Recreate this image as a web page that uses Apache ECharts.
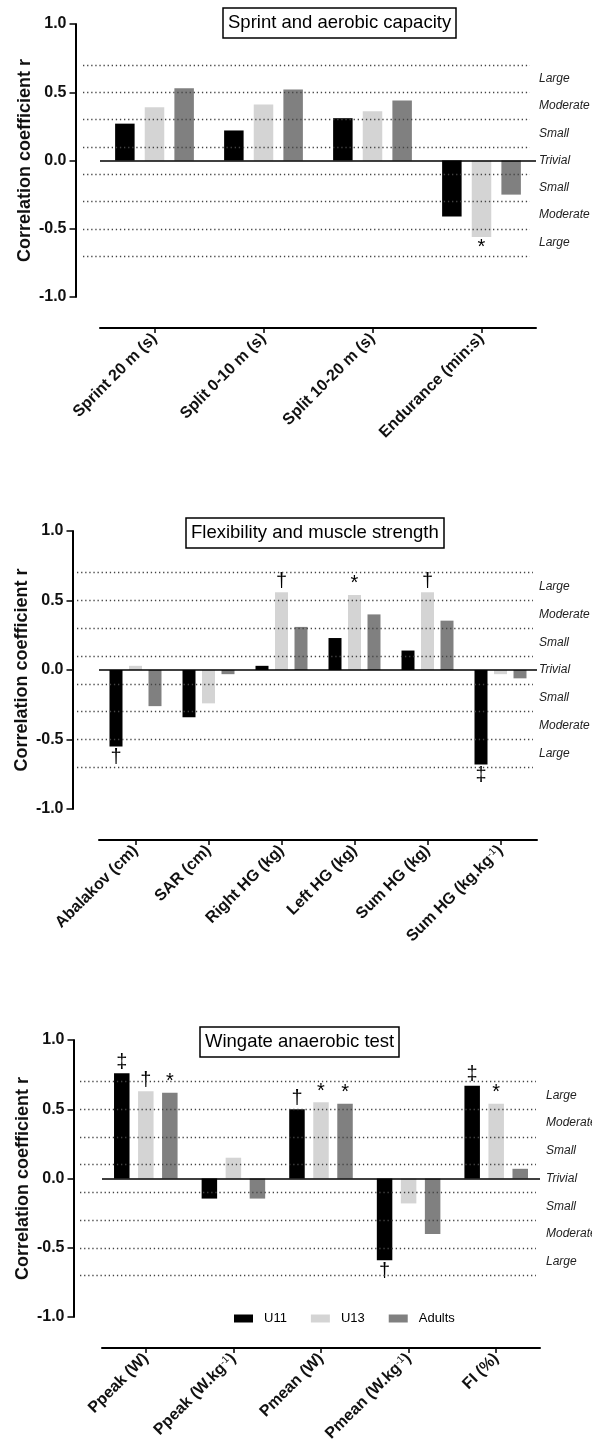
<!DOCTYPE html>
<html><head><meta charset="utf-8">
<script src="https://cdn.jsdelivr.net/npm/echarts@6/dist/echarts.min.js"></script>
<style>html,body{margin:0;padding:0;background:#fff}#c{width:592px;height:1450px}</style>
</head><body><div id="c"></div>
<script>
// ---------- data ----------
const groups = ['U11', 'U13', 'Adults'];
const groupColors = ['#000000', '#d4d4d4', '#808080'];

const sprintCategories = ['Sprint 20 m (s)', 'Split 0-10 m (s)', 'Split 10-20 m (s)', 'Endurance (min:s)'];
const sprintU11 = [0.27, 0.22, 0.31, -0.41];
const sprintU13 = [0.39, 0.41, 0.36, -0.56];
const sprintAdults = [0.53, 0.52, 0.44, -0.25];
const sprintMarksU11 = ['', '', '', ''];
const sprintMarksU13 = ['', '', '', '*'];
const sprintMarksAdults = ['', '', '', ''];

const strengthCategories = ['Abalakov (cm)', 'SAR (cm)', 'Right HG (kg)', 'Left HG (kg)', 'Sum HG (kg)', 'Sum HG (kg.kg⁻¹)'];
const strengthU11 = [-0.55, -0.34, 0.03, 0.23, 0.14, -0.68];
const strengthU13 = [0.03, -0.24, 0.56, 0.54, 0.56, -0.03];
const strengthAdults = [-0.26, -0.03, 0.31, 0.40, 0.355, -0.06];
const strengthMarksU11 = ['†', '', '', '', '', '‡'];
const strengthMarksU13 = ['', '', '†', '*', '†', ''];
const strengthMarksAdults = ['', '', '', '', '', ''];

const wingateCategories = ['Ppeak (W)', 'Ppeak (W.kg⁻¹)', 'Pmean (W)', 'Pmean (W.kg⁻¹)', 'FI (%)'];
const wingateU11 = [0.76, -0.145, 0.50, -0.59, 0.67];
const wingateU13 = [0.63, 0.15, 0.55, -0.18, 0.54];
const wingateAdults = [0.62, -0.145, 0.54, -0.40, 0.07];
const wingateMarksU11 = ['‡', '', '†', '†', '‡'];
const wingateMarksU13 = ['†', '', '*', '', '*'];
const wingateMarksAdults = ['*', '', '*', '', ''];

const thresholdLevels = [0.7, 0.5, 0.3, 0.1, -0.1, -0.3, -0.5, -0.7];
const effectValues = [0.6, 0.4, 0.2, 0, -0.2, -0.4, -0.6];
const effectLabels = ['Large', 'Moderate', 'Small', 'Trivial', 'Small', 'Moderate', 'Large'];
const yAxisTitle = 'Correlation coefficient r';

// ---------- layout ----------
const FONT = '"Liberation Sans", Arial, Helvetica, sans-serif';
const panels = [
  { title: 'Sprint and aerobic capacity', titleLeft: 223, titleTop: 8,
    top: 24, height: 273, axisX: 75.5, dotLeft: 83, right: 530, barLeft: 100, barSpan: 436,
    barW: 19.5, barGap: '52%', effMargin: 9,
    cats: sprintCategories, values: [sprintU11, sprintU13, sprintAdults],
    marks: [sprintMarksU11, sprintMarksU13, sprintMarksAdults] },
  { title: 'Flexibility and muscle strength', titleLeft: 186, titleTop: 518,
    top: 531, height: 278, axisX: 72.5, dotLeft: 77, right: 533, barLeft: 99, barSpan: 438,
    barW: 13, barGap: '50%', effMargin: 6,
    cats: strengthCategories, values: [strengthU11, strengthU13, strengthAdults],
    marks: [strengthMarksU11, strengthMarksU13, strengthMarksAdults] },
  { title: 'Wingate anaerobic test', titleLeft: 200, titleTop: 1027,
    top: 1040, height: 277, axisX: 73.5, dotLeft: 80, right: 536, barLeft: 102, barSpan: 438,
    barW: 15.5, barGap: '55%', effMargin: 10,
    cats: wingateCategories, values: [wingateU11, wingateU13, wingateAdults],
    marks: [wingateMarksU11, wingateMarksU13, wingateMarksAdults] }
];

const grid = [], xAxis = [], yAxis = [], series = [], title = [];

function catFormatter(v) {
  return v.replace('⁻¹', '{sup|-1}');
}
function effFormatter(v) {
  const i = effectValues.findIndex(e => Math.abs(e - v) < 1e-6);
  return i < 0 ? '' : effectLabels[i];
}

panels.forEach((p, k) => {
  title.push({
    text: p.title, left: p.titleLeft, top: p.titleTop,
    padding: [5, 5, 5, 5], borderColor: '#000', borderWidth: 1.5,
    textStyle: { fontFamily: FONT, fontSize: 18.5, fontWeight: 'normal', color: '#000', lineHeight: 20 }
  });
  const gA = grid.length;
  grid.push({ left: p.dotLeft, top: p.top, width: p.right - p.dotLeft, height: p.height,
    containLabel: false, outerBoundsMode: 'none' });
  grid.push({ left: p.barLeft, top: p.top, width: p.barSpan, height: p.height,
    containLabel: false, outerBoundsMode: 'none' });
  const xA = xAxis.length;
  xAxis.push({ type: 'value', gridIndex: gA, min: 0, max: 1, show: false });
  xAxis.push({
    type: 'category', gridIndex: gA + 1, data: p.cats, position: 'bottom', offset: 31,
    axisLine: { show: true, onZero: false, lineStyle: { color: '#000', width: 2 } },
    axisTick: { show: true, alignWithLabel: true, length: 5, lineStyle: { color: '#000', width: 1.5 } },
    splitLine: { show: false },
    axisLabel: {
      rotate: 45, margin: 8, interval: 0, fontFamily: FONT, fontSize: 16, fontWeight: 'bold', color: '#111',
      formatter: catFormatter,
      rich: { sup: { fontFamily: FONT, fontSize: 10, fontWeight: 'normal', color: '#111', verticalAlign: 'top' } }
    }
  });
  const yA = yAxis.length;
  yAxis.push({
    type: 'value', gridIndex: gA, min: -1, max: 1, interval: 0.5, position: 'left',
    offset: p.dotLeft - p.axisX,
    axisLine: { show: true, onZero: false, lineStyle: { color: '#000', width: 2 } },
    axisTick: { show: true, length: 6, lineStyle: { color: '#000', width: 1.5 } },
    splitLine: { show: false },
    axisLabel: { margin: 9, fontFamily: FONT, fontSize: 16, fontWeight: 'bold', color: '#111',
      formatter: v => v.toFixed(1) },
    name: yAxisTitle, nameLocation: 'middle', nameRotate: 90, nameGap: 41, nameMoveOverlap: false,
    nameTextStyle: { fontFamily: FONT, fontSize: 18, fontWeight: 'bold', color: '#111' }
  });
  yAxis.push({
    type: 'value', gridIndex: gA, min: -1, max: 1, interval: 0.2, position: 'right',
    axisLine: { show: false }, axisTick: { show: false }, splitLine: { show: false },
    axisLabel: { margin: p.effMargin, fontFamily: FONT, fontSize: 12, fontStyle: 'italic', color: '#222',
      formatter: effFormatter, showMinLabel: true, showMaxLabel: true }
  });
  yAxis.push({ type: 'value', gridIndex: gA + 1, min: -1, max: 1, show: false });

  series.push({
    type: 'line', xAxisIndex: xA, yAxisIndex: yA, data: [], silent: true, z: 1,
    markLine: {
      silent: true, symbol: 'none', label: { show: false }, animation: false,
      lineStyle: { color: '#444', width: 1.3, type: [1.3, 2.8] },
      data: thresholdLevels.map(v => ({ yAxis: v }))
    }
  });
  groups.forEach((g, i) => {
    const s = {
      type: 'bar', name: g, xAxisIndex: xA + 1, yAxisIndex: yA + 2,
      barWidth: p.barW, barGap: p.barGap, z: 3,
      itemStyle: { color: groupColors[i] },
      label: { fontFamily: FONT, fontSize: 20, color: '#000', distance: 1 },
      data: p.values[i].map((v, j) => {
        const m = p.marks[i][j];
        return m ? { value: v, label: { show: true, position: v >= 0 ? 'top' : 'bottom', formatter: m } } : v;
      })
    };
    if (i === groups.length - 1) {
      s.markLine = {
        silent: true, symbol: 'none', label: { show: false }, animation: false,
        lineStyle: { color: '#000', width: 1.5, type: 'solid' },
        data: [{ yAxis: 0 }]
      };
    }
    series.push(s);
  });
});

const chart = echarts.init(document.getElementById('c'), null, { renderer: 'canvas' });
chart.setOption({
  animation: false,
  backgroundColor: '#fff',
  title,
  legend: {
    data: groups, left: 229, top: 1307, itemWidth: 19, itemHeight: 8, itemGap: 24, icon: 'rect',
    selectedMode: false,
    textStyle: { fontFamily: FONT, fontSize: 13, color: '#000', padding: [0, 0, 0, 6] }
  },
  grid, xAxis, yAxis, series
});
</script></body></html>
